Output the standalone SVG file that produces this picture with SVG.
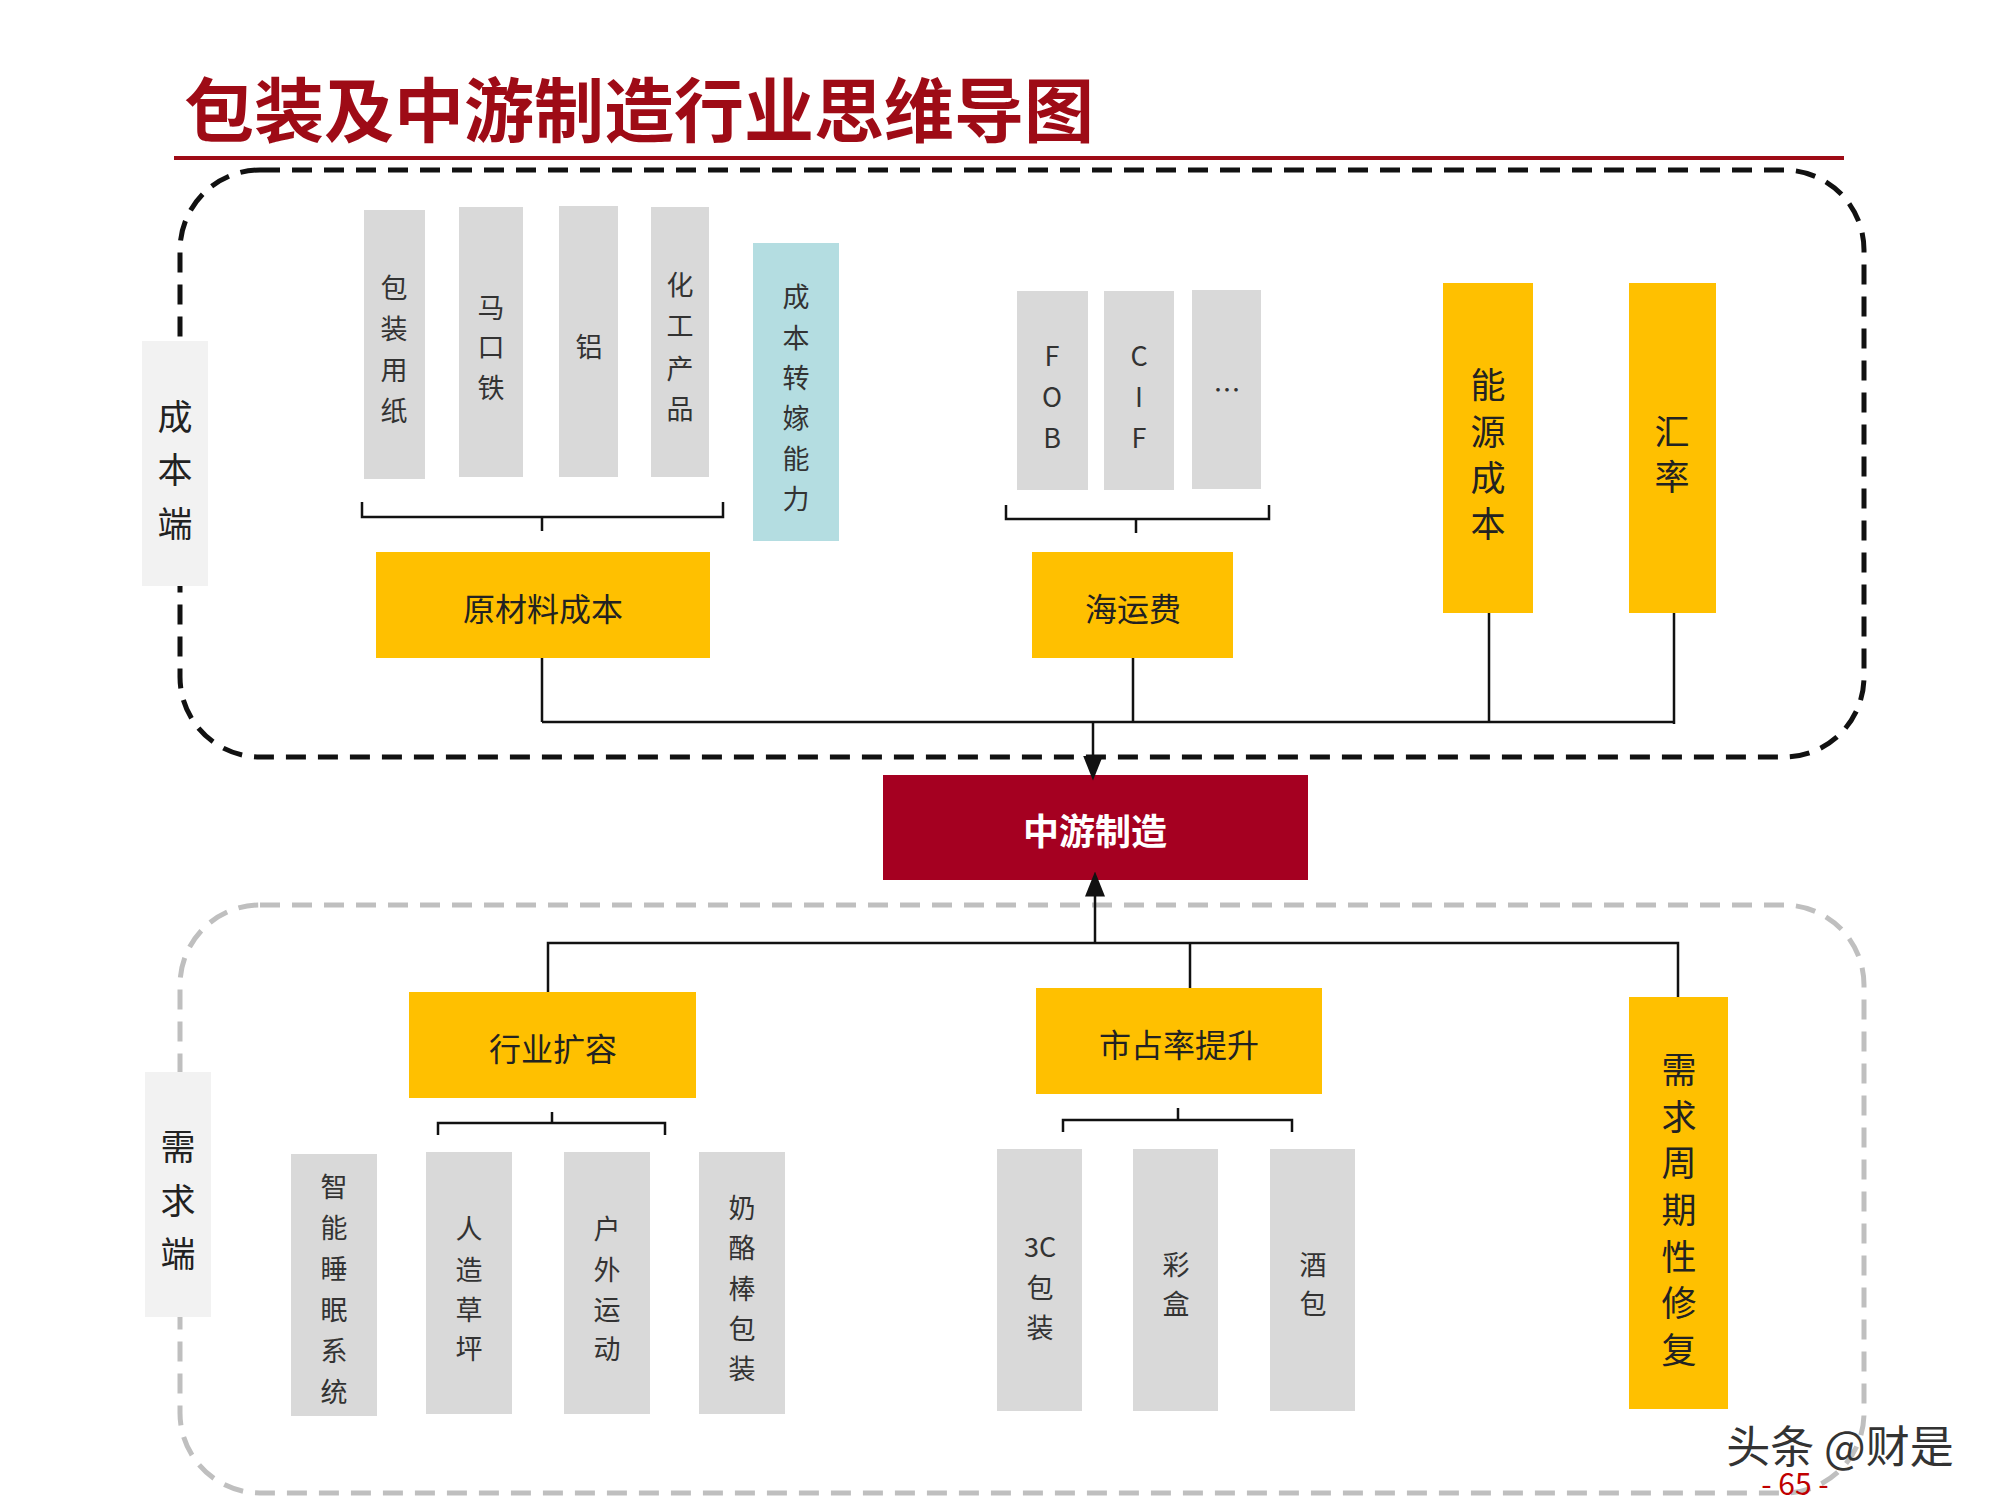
<svg xmlns="http://www.w3.org/2000/svg" width="2000" height="1500" viewBox="0 0 2000 1500">
<style>
text{font-family:"Noto Sans CJK SC","Liberation Sans",sans-serif;text-anchor:middle;dominant-baseline:central}
.g{fill:#D9D9D9}.y{fill:#FFC000}.t{fill:#B4DDE1}
.s{font-size:27px;fill:#333}.m{font-size:32px;fill:#222}.l{font-size:35px;fill:#222}
.c{fill:none;stroke:#111;stroke-width:2.5}
</style>
<defs><marker id="a" markerWidth="10" markerHeight="10" refX="5" refY="5" orient="auto"><path d="M0,1 L10,5 L0,9 Z" fill="#111"/></marker></defs>
<rect width="2000" height="1500" fill="#fff"/>
<text x="184" y="106" style="font-size:70px;font-weight:bold;fill:#9E0B16;text-anchor:start">包装及中游制造行业思维导图</text>
<line x1="174" y1="158" x2="1844" y2="158" stroke="#9E0B16" stroke-width="4"/>
<rect x="180" y="170" width="1684" height="587" rx="80" fill="none" stroke="#111" stroke-width="5" stroke-dasharray="20 12"/>
<rect x="180" y="905" width="1684" height="588" rx="80" fill="none" stroke="#BFBFBF" stroke-width="5" stroke-dasharray="20 12"/>
<g id="side1"><rect x="142" y="341" width="66" height="245" fill="#F2F2F2"/><text class="l" x="175" y="414">成</text><text class="l" x="175" y="467">本</text><text class="l" x="175" y="521">端</text></g>
<g id="side2"><rect x="145" y="1072" width="66" height="245" fill="#F2F2F2"/><text class="l" x="178" y="1144">需</text><text class="l" x="178" y="1198">求</text><text class="l" x="178" y="1251">端</text></g>
<g id="n1"><rect class="g" x="364" y="210" width="61" height="269"/><text class="s" x="394" y="286">包</text><text class="s" x="394" y="327">装</text><text class="s" x="394" y="368">用</text><text class="s" x="394" y="409">纸</text></g>
<g id="n2"><rect class="g" x="459" y="207" width="64" height="270"/><text class="s" x="491" y="306">马</text><text class="s" x="491" y="345">口</text><text class="s" x="491" y="386">铁</text></g>
<g id="n3"><rect class="g" x="559" y="206" width="59" height="271"/><text class="s" x="589" y="345">铝</text></g>
<g id="n4"><rect class="g" x="651" y="207" width="58" height="270"/><text class="s" x="680" y="283">化</text><text class="s" x="680" y="324">工</text><text class="s" x="680" y="367">产</text><text class="s" x="680" y="407">品</text></g>
<g id="n5"><rect class="t" x="753" y="243" width="86" height="298"/><text class="s" x="796" y="295">成</text><text class="s" x="796" y="336">本</text><text class="s" x="796" y="376">转</text><text class="s" x="796" y="416">嫁</text><text class="s" x="796" y="457">能</text><text class="s" x="796" y="497">力</text></g>
<g id="n6"><rect class="y" x="376" y="552" width="334" height="106"/><text class="m" x="543" y="607">原材料成本</text></g>
<g id="n7"><rect class="g" x="1017" y="291" width="71" height="199"/><text class="s" x="1052" y="354">F</text><text class="s" x="1052" y="395">O</text><text class="s" x="1052" y="436">B</text></g>
<g id="n8"><rect class="g" x="1104" y="291" width="70" height="199"/><text class="s" x="1139" y="354">C</text><text class="s" x="1139" y="395">I</text><text class="s" x="1139" y="436">F</text></g>
<g id="n9"><rect class="g" x="1192" y="290" width="69" height="199"/><text class="s" x="1227" y="388">…</text></g>
<g id="n10"><rect class="y" x="1032" y="552" width="201" height="106"/><text class="m" x="1133" y="607">海运费</text></g>
<g id="n11"><rect class="y" x="1443" y="283" width="90" height="330"/><text class="l" x="1488" y="382">能</text><text class="l" x="1488" y="429">源</text><text class="l" x="1488" y="475">成</text><text class="l" x="1488" y="521">本</text></g>
<g id="n12"><rect class="y" x="1629" y="283" width="87" height="330"/><text class="l" x="1672" y="429">汇</text><text class="l" x="1672" y="474">率</text></g>
<g id="center"><rect x="883" y="775" width="425" height="105" fill="#A50021"/><text x="1095" y="829" style="font-size:36px;font-weight:bold;fill:#fff">中游制造</text></g>
<g id="n13"><rect class="y" x="409" y="992" width="287" height="106"/><text class="m" x="553" y="1047">行业扩容</text></g>
<g id="n14"><rect class="y" x="1036" y="988" width="286" height="106"/><text class="m" x="1179" y="1043">市占率提升</text></g>
<g id="n15"><rect class="y" x="1629" y="997" width="99" height="412"/><text class="l" x="1679" y="1067">需</text><text class="l" x="1679" y="1114">求</text><text class="l" x="1679" y="1160">周</text><text class="l" x="1679" y="1207">期</text><text class="l" x="1679" y="1254">性</text><text class="l" x="1679" y="1300">修</text><text class="l" x="1679" y="1347">复</text></g>
<g id="n16"><rect class="g" x="291" y="1154" width="86" height="262"/><text class="s" x="334" y="1185">智</text><text class="s" x="334" y="1226">能</text><text class="s" x="334" y="1267">睡</text><text class="s" x="334" y="1308">眠</text><text class="s" x="334" y="1349">系</text><text class="s" x="334" y="1390">统</text></g>
<g id="n17"><rect class="g" x="426" y="1152" width="86" height="262"/><text class="s" x="469" y="1227">人</text><text class="s" x="469" y="1268">造</text><text class="s" x="469" y="1308">草</text><text class="s" x="469" y="1347">坪</text></g>
<g id="n18"><rect class="g" x="564" y="1152" width="86" height="262"/><text class="s" x="607" y="1227">户</text><text class="s" x="607" y="1268">外</text><text class="s" x="607" y="1308">运</text><text class="s" x="607" y="1347">动</text></g>
<g id="n19"><rect class="g" x="699" y="1152" width="86" height="262"/><text class="s" x="742" y="1206">奶</text><text class="s" x="742" y="1246">酪</text><text class="s" x="742" y="1287">棒</text><text class="s" x="742" y="1327">包</text><text class="s" x="742" y="1367">装</text></g>
<g id="n20"><rect class="g" x="997" y="1149" width="85" height="262"/><text class="s" x="1040" y="1245">3C</text><text class="s" x="1040" y="1286">包</text><text class="s" x="1040" y="1326">装</text></g>
<g id="n21"><rect class="g" x="1133" y="1149" width="85" height="262"/><text class="s" x="1176" y="1263">彩</text><text class="s" x="1176" y="1302">盒</text></g>
<g id="n22"><rect class="g" x="1270" y="1149" width="85" height="262"/><text class="s" x="1313" y="1263">酒</text><text class="s" x="1313" y="1302">包</text></g>
<g id="connectors" class="c">
<path class="c" d="M362,502 V517 H723 V502 M542,517 V531"/>
<path class="c" d="M1006,505 V519 H1269 V505 M1136,519 V533"/>
<path class="c" d="M542,658 V722 M1133,658 V722 M1489,613 V722 M1674,613 V724 M542,722 H1674"/>
<path class="c" d="M1093,722 V768" marker-end="url(#a)"/>
<path class="c" d="M548,992 V943 H1678 V997 M1190,943 V988"/>
<path class="c" d="M1095,943 V884" marker-end="url(#a)"/>
<path class="c" d="M438,1135 V1123 H665 V1135 M552,1123 V1112"/>
<path class="c" d="M1063,1132 V1120 H1292 V1132 M1178,1120 V1108"/>
</g>
<text x="1840" y="1444" style="font-size:44px;fill:#333">头条 @财是</text>
<text x="1795" y="1482" style="font-size:30px;fill:#C00000">- 65 -</text>
</svg>
